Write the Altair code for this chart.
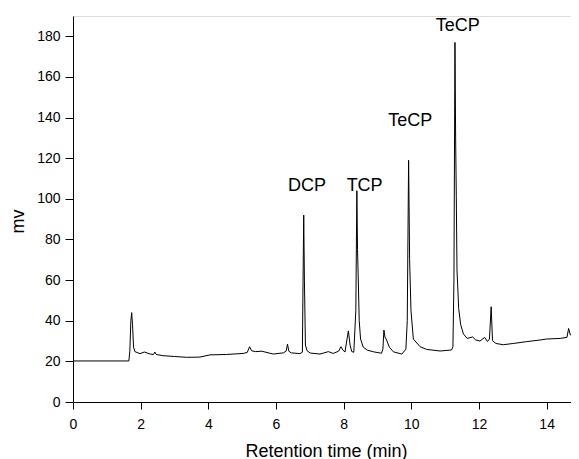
import altair as alt
import pandas as pd

# Chromatogram trace: retention time (min) and signal (mV)
time_min = [
    0.00, 1.65, 1.68, 1.71, 1.735, 1.76, 1.79, 1.83, 1.98, 2.11, 2.28, 2.38, 2.42, 2.46,
    2.66, 3.00, 3.36, 3.75, 4.05, 4.54, 5.03, 5.15, 5.22, 5.28, 5.40, 5.58, 5.82, 5.92,
    6.22, 6.30, 6.34, 6.38, 6.45, 6.71, 6.78, 6.80, 6.82, 6.84, 6.87, 6.92, 7.01, 7.30,
    7.55, 7.69, 7.85, 7.92, 7.98, 8.04, 8.10, 8.14, 8.19, 8.24, 8.30, 8.36, 8.39, 8.41,
    8.43, 8.46, 8.50, 8.58, 8.70, 8.88, 9.12, 9.16, 9.19, 9.22, 9.27, 9.35, 9.47, 9.72,
    9.84, 9.88, 9.92, 9.95, 9.99, 10.06, 10.26, 10.45, 10.85, 11.19, 11.23, 11.26, 11.29,
    11.31, 11.33, 11.35, 11.40, 11.46, 11.54, 11.65, 11.81, 11.90, 12.03, 12.17, 12.25,
    12.31, 12.36, 12.40, 12.50, 12.72, 13.01, 13.40, 13.80, 14.00, 14.40, 14.60, 14.65,
    14.70, 15.00,
]
signal_mv = [
    20.2, 20.2, 25.0, 40.0, 44.0, 38.0, 27.0, 24.8, 23.8, 24.6, 23.6, 23.4, 24.6, 23.4,
    22.8, 22.4, 22.0, 22.1, 23.2, 23.4, 23.9, 24.4, 27.2, 25.2, 24.8, 25.0, 24.0, 23.6,
    24.2, 25.0, 28.5, 25.0, 24.2, 23.8, 24.5, 60.0, 92.0, 60.0, 28.0, 25.2, 24.1, 23.6,
    24.8, 23.9, 25.0, 27.2, 25.5, 24.6, 31.0, 35.0, 28.0, 24.8, 24.5, 45.0, 104.0, 75.0,
    62.0, 40.0, 31.0, 27.0, 25.5, 24.7, 24.0, 26.0, 35.4, 32.0, 30.5, 27.0, 24.7, 23.6,
    26.0, 40.0, 119.0, 70.0, 45.0, 31.0, 27.2, 25.9, 25.1, 25.6, 27.2, 60.0, 177.0,
    130.0, 101.0, 65.0, 46.0, 38.0, 33.5, 31.3, 32.0, 30.6, 30.0, 31.8, 29.8,
    31.0, 46.9, 30.2, 28.8, 28.2, 28.8, 29.7, 30.5, 31.0, 31.3, 31.8, 36.2,
    33.0, 33.0,
]

# Peak annotations
peak_names = ["DCP", "TCP", "TeCP", "TeCP"]
peak_label_time = [6.92, 8.62, 9.97, 11.37]
peak_label_mv = [104.0, 104.0, 136.0, 182.6]

x_ticks = list(range(0, 15))
y_ticks = list(range(0, 200, 10))

FONT = "Liberation Sans"

trace = pd.DataFrame({"t": time_min, "mv": signal_mv})
labels = pd.DataFrame({"name": peak_names, "t": peak_label_time, "mv": peak_label_mv})

x_scale = alt.Scale(domain=[0, 14.72], nice=False, zero=False)
y_scale = alt.Scale(domain=[0, 190], nice=False)

x_axis = alt.Axis(
    title="Retention time (min)",
    values=x_ticks,
    labelExpr="datum.value % 2 === 0 ? datum.label : ''",
    tickSize={"condition": {"test": "datum.value % 2 === 0", "value": 7}, "value": 4},
    labelOverlap=False,
    labelFlush=False,
    grid=False,
    domainColor="black",
    tickColor="black",
    labelColor="black",
    titleColor="black",
    labelFont=FONT,
    titleFont=FONT,
    labelFontSize=14,
    titleFontSize=18,
    titleFontWeight="normal",
    labelPadding=8,
    titleBaseline="alphabetic",
    titleX=253,
    titleY=54,
)
y_axis = alt.Axis(
    title="mv",
    values=y_ticks,
    labelExpr="datum.value % 20 === 0 ? datum.label : ''",
    tickSize={"condition": {"test": "datum.value % 20 === 0", "value": 8}, "value": 4},
    labelOverlap=False,
    labelFlush=False,
    grid=False,
    domainColor="black",
    tickColor="black",
    labelColor="black",
    titleColor="black",
    labelFont=FONT,
    titleFont=FONT,
    labelFontSize=14,
    titleFontSize=18,
    titleFontWeight="normal",
    labelPadding=5,
    titleBaseline="alphabetic",
    titleAlign="center",
    titleX=-50,
    titleY=205,
)

line = alt.Chart(trace).mark_line(color="black", strokeWidth=1, clip=True).encode(
    x=alt.X("t:Q", scale=x_scale, axis=x_axis),
    y=alt.Y("mv:Q", scale=y_scale, axis=y_axis),
)

text = alt.Chart(labels).mark_text(
    font=FONT, fontSize=18, color="black", align="center", baseline="alphabetic"
).encode(
    x=alt.X("t:Q", scale=x_scale),
    y=alt.Y("mv:Q", scale=y_scale),
    text="name:N",
)

chart = (
    alt.layer(line, text)
    .properties(
        width=498,
        height=386,
        padding={"left": 65, "top": 8, "right": 0, "bottom": 57},
        autosize=alt.AutoSizeParams(type="none"),
    )
    .configure_view(stroke=None)
    .configure(background="white")
)

chart.save("out.html", embed_options={"renderer": "svg", "actions": False})
